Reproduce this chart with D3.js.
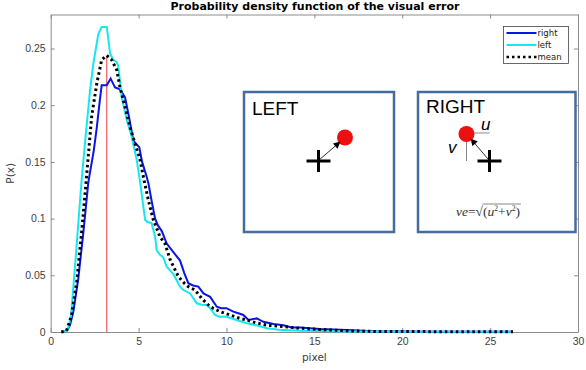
<!DOCTYPE html>
<meta charset="utf-8">
<style>
body { margin: 0; background: #fff; }
svg { font-family: "DejaVu Sans", sans-serif; }
.axis text { font-size: 10.5px; fill: #404040; }
.axis path, .axis line { stroke: #8c8c8c; }
</style>
<svg width="586" height="370"></svg>
<script src="https://d3js.org/d3.v7.min.js"></script>
<script>

// left eye curve (cyan)
var leftX = [0.6, 0.9, 1.0, 1.16, 1.42, 1.67, 1.76, 2.0, 2.24, 2.43, 2.71, 2.9, 3.19, 3.38, 3.56, 3.76, 3.85, 4.04, 4.33, 4.61, 4.89, 5.08, 5.37, 5.5, 5.74, 5.94, 6.03, 6.22, 6.4, 6.6, 6.98, 7.36, 7.55, 7.93, 8.31, 8.6, 8.88, 9.07, 9.35, 9.6, 10.0, 10.58, 11.16, 11.7, 12.3, 13.0, 14.2, 15.5, 17, 18.5, 20, 22, 24, 26.3];
var leftP = [0, 0.001, 0.003, 0.015, 0.065, 0.116, 0.134, 0.175, 0.213, 0.237, 0.263, 0.269, 0.269, 0.2456, 0.24, 0.238, 0.234, 0.207, 0.187, 0.172, 0.152, 0.133, 0.099, 0.097, 0.096, 0.084, 0.072, 0.068, 0.066, 0.0575, 0.051, 0.040, 0.037, 0.034, 0.0253, 0.024, 0.0238, 0.021, 0.015, 0.0135, 0.0135, 0.0106, 0.0077, 0.006, 0.0033, 0.002, 0.0012, 0.0008, 0.0005, 0.0004, 0.0003, 0.0003, 0.0002, 0.0002];

// right eye curve (blue)
var rightX = [0.6, 0.91, 1.1, 1.29, 1.57, 1.86, 2.14, 2.45, 2.62, 2.8, 2.9, 3.19, 3.41, 3.55, 3.66, 3.94, 4.23, 4.45, 4.70, 4.85, 5.04, 5.2, 5.46, 5.56, 5.75, 5.94, 6.1, 6.32, 6.6, 7.0, 7.36, 7.6, 7.83, 8.1, 8.4, 8.69, 8.88, 9.07, 9.45, 9.7, 10.0, 10.39, 10.68, 10.96, 11.25, 11.72, 12.1, 12.67, 13.24, 13.7, 14.2, 15.3, 16.85, 18.7, 20, 22, 24, 26.3];
var rightP = [0, 0.001, 0.006, 0.018, 0.047, 0.088, 0.132, 0.16, 0.18, 0.205, 0.2177, 0.2177, 0.2235, 0.219, 0.2157, 0.214, 0.207, 0.19, 0.169, 0.166, 0.163, 0.15, 0.137, 0.131, 0.115, 0.100, 0.094, 0.089, 0.078, 0.07, 0.063, 0.052, 0.043, 0.041, 0.040, 0.034, 0.0326, 0.031, 0.0223, 0.021, 0.021, 0.018, 0.0165, 0.015, 0.0106, 0.012, 0.009, 0.007, 0.006, 0.004, 0.004, 0.0026, 0.0018, 0.0005, 0.0004, 0.0003, 0.0003, 0.0002];

// mean curve (black dotted)
var meanX = [0.6, 0.9, 1.19, 1.48, 1.76, 2.0, 2.33, 2.62, 2.9, 3.19, 3.47, 3.76, 3.94, 4.23, 4.51, 4.80, 5.08, 5.27, 5.56, 5.84, 6.22, 6.5, 6.79, 7.26, 7.6, 7.83, 8.21, 8.59, 9.07, 9.64, 10.2, 10.77, 11.16, 11.7, 12.3, 13.24, 14.2, 15.5, 17, 18.5, 20, 22, 24, 26.3];
var meanP = [0, 0.001, 0.015, 0.044, 0.088, 0.13, 0.19, 0.219, 0.24, 0.244, 0.24, 0.231, 0.216, 0.1985, 0.181, 0.166, 0.152, 0.137, 0.116, 0.0987, 0.084, 0.078, 0.064, 0.049, 0.043, 0.040, 0.037, 0.0297, 0.0223, 0.0179, 0.015, 0.012, 0.0106, 0.008, 0.006, 0.0047, 0.0033, 0.002, 0.001, 0.0005, 0.0004, 0.0003, 0.0003, 0.0002];

// mode marker (red line)
var modeX = 3.19, modeP = 0.243;

var xTicks = [0, 5, 10, 15, 20, 25, 30];
var yTicks = [0, 0.05, 0.1, 0.15, 0.2, 0.25];
var yTickLabels = ["0", "0.05", "0.1", "0.15", "0.2", "0.25"];

var seriesNames = ["right", "left", "mean"];
var seriesColors = ["#0a14e6", "#14e8f0", "#000"];

var svg = d3.select("svg");

var margin = {left: 50.7, right: 8, top: 14.5, bottom: 38},
    W = 586, H = 370;

var x = d3.scaleLinear().domain([0, 30]).range([margin.left, W - margin.right]);
var y = d3.scaleLinear().domain([0, 0.28]).range([H - margin.bottom, margin.top]);

// axes, MATLAB style: box + inward ticks
svg.append("g").attr("class", "axis")
    .attr("transform", "translate(0," + y(0) + ")")
    .call(d3.axisBottom(x).tickValues(xTicks).tickSize(-4).tickSizeOuter(0).tickPadding(6));
svg.append("g").attr("class", "axis")
    .attr("transform", "translate(" + x(0) + ",0)")
    .call(d3.axisLeft(y).tickValues(yTicks).tickSize(-4).tickSizeOuter(0).tickPadding(5)
      .tickFormat(function(d, i) { return yTickLabels[i]; }));
svg.append("g").attr("class", "axis")
    .attr("transform", "translate(0," + y(0.28) + ")")
    .call(d3.axisTop(x).tickValues(xTicks).tickSize(-4).tickSizeOuter(0).tickFormat(""));
svg.append("g").attr("class", "axis")
    .attr("transform", "translate(" + x(30) + ",0)")
    .call(d3.axisRight(y).tickValues(yTicks).tickSize(-4).tickSizeOuter(0).tickFormat(""));

svg.append("text")
    .attr("x", 315).attr("y", 10)
    .attr("text-anchor", "middle")
    .style("font-size", "11px").style("font-weight", "bold")
    .text("Probability density function of the visual error");

svg.append("text")
    .attr("x", x(15)).attr("y", 361)
    .attr("text-anchor", "middle")
    .style("font-size", "10.5px").style("fill", "#404040")
    .text("pixel");

svg.append("text")
    .attr("transform", "translate(14," + y(0.14) + ") rotate(-90)")
    .attr("text-anchor", "middle")
    .style("font-size", "10.5px").style("fill", "#404040")
    .text("P(x)");

// red mode line
svg.append("line")
    .attr("x1", x(modeX)).attr("x2", x(modeX))
    .attr("y1", y(0)).attr("y2", y(modeP))
    .attr("stroke", "#f03c3c").attr("stroke-width", 1);

var line = d3.line()
    .x(function(d) { return x(d[0]); })
    .y(function(d) { return y(d[1]); });

function pairs(xs, ps) { return xs.map(function(v, i) { return [v, ps[i]]; }); }

svg.append("path").datum(pairs(rightX, rightP))
    .attr("d", line).attr("fill", "none")
    .attr("stroke", seriesColors[0]).attr("stroke-width", 2);
svg.append("path").datum(pairs(leftX, leftP))
    .attr("d", line).attr("fill", "none")
    .attr("stroke", seriesColors[1]).attr("stroke-width", 2);
svg.append("path").datum(pairs(meanX, meanP))
    .attr("d", line).attr("fill", "none")
    .attr("stroke", seriesColors[2]).attr("stroke-width", 3)
    .attr("stroke-dasharray", "2.5,3");

// legend
var lg = svg.append("g").attr("transform", "translate(503.5,26.5)");
lg.append("rect").attr("width", 65).attr("height", 37)
    .attr("fill", "#fff").attr("stroke", "#444").attr("stroke-width", 0.8);
seriesNames.forEach(function(name, i) {
  var yy = 6.5 + i * 12;
  lg.append("line").attr("x1", 3).attr("x2", 33).attr("y1", yy).attr("y2", yy)
      .attr("stroke", seriesColors[i])
      .attr("stroke-width", i == 2 ? 2.5 : 2)
      .attr("stroke-dasharray", i == 2 ? "2.5,3" : null);
  lg.append("text").attr("x", 34).attr("y", yy + 3)
      .style("font-size", "8.5px").style("fill", "#222")
      .text(name);
});

// inset pictures
var defs = svg.append("defs");
defs.append("marker").attr("id", "arr")
    .attr("viewBox", "0 0 10 10").attr("refX", 9).attr("refY", 5)
    .attr("markerWidth", 9).attr("markerHeight", 7)
    .attr("markerUnits", "userSpaceOnUse")
    .attr("orient", "auto")
  .append("path").attr("d", "M0,0L10,5L0,10z").attr("fill", "#000");

var boxColor = "#456c9e";

function cross(g, cx, cy) {
  g.append("line").attr("x1", cx - 12).attr("x2", cx + 12).attr("y1", cy).attr("y2", cy)
      .attr("stroke", "#000").attr("stroke-width", 3);
  g.append("line").attr("x1", cx).attr("x2", cx).attr("y1", cy - 11).attr("y2", cy + 11)
      .attr("stroke", "#000").attr("stroke-width", 3);
}

// LEFT
var gl = svg.append("g");
gl.append("rect").attr("x", 244).attr("y", 92).attr("width", 150).attr("height", 140)
    .attr("fill", "#fff").attr("stroke", boxColor).attr("stroke-width", 2.5);
gl.append("text").attr("x", 252).attr("y", 115).style("font-family", "Liberation Sans, Arial, sans-serif")
    .style("font-size", "19px").text("LEFT");
cross(gl, 318.5, 161);
gl.append("circle").attr("cx", 345).attr("cy", 137.5).attr("r", 8).attr("fill", "#ee1010");
gl.append("line").attr("x1", 319).attr("y1", 160).attr("x2", 340).attr("y2", 142)
    .attr("stroke", "#000").attr("stroke-width", 0.8).attr("marker-end", "url(#arr)");

// RIGHT
var gr = svg.append("g");
gr.append("rect").attr("x", 418).attr("y", 92).attr("width", 157.5).attr("height", 140)
    .attr("fill", "#fff").attr("stroke", boxColor).attr("stroke-width", 2.5);
gr.append("text").attr("x", 426).attr("y", 113).style("font-family", "Liberation Sans, Arial, sans-serif")
    .style("font-size", "19px").text("RIGHT");
gr.append("line").attr("x1", 466.5).attr("x2", 489.5).attr("y1", 133).attr("y2", 133)
    .attr("stroke", "#888").attr("stroke-width", 1);
gr.append("line").attr("x1", 466.5).attr("x2", 466.5).attr("y1", 133).attr("y2", 161)
    .attr("stroke", "#888").attr("stroke-width", 1);
cross(gr, 489.5, 161);
gr.append("circle").attr("cx", 466.5).attr("cy", 134).attr("r", 8).attr("fill", "#ee1010");
gr.append("line").attr("x1", 488).attr("y1", 159).attr("x2", 471).attr("y2", 139)
    .attr("stroke", "#000").attr("stroke-width", 0.8).attr("marker-end", "url(#arr)");
gr.append("text").attr("x", 481).attr("y", 130)
    .style("font-family", "Liberation Sans, Arial, sans-serif").style("font-style", "italic")
    .style("font-size", "17px").text("u");
gr.append("text").attr("x", 448).attr("y", 153)
    .style("font-family", "Liberation Sans, Arial, sans-serif").style("font-style", "italic")
    .style("font-size", "17px").text("v");

// formula ve = sqrt(u^2 + v^2)
var fStyle = function(t) {
  return t.style("font-family", "Liberation Serif, serif").style("font-size", "13.5px").style("fill", "#333");
};
var f1 = fStyle(gr.append("text").attr("x", 456).attr("y", 216));
f1.append("tspan").style("font-style", "italic").text("ve");
f1.append("tspan").text("=\u221A");
var f1w = f1.node().getComputedTextLength();
var f2 = fStyle(gr.append("text").attr("x", 456 + f1w).attr("y", 216));
f2.append("tspan").text("(");
f2.append("tspan").style("font-style", "italic").text("u");
f2.append("tspan").attr("dy", -5).style("font-size", "7.5px").text("2");
f2.append("tspan").attr("dy", 5).text("+");
f2.append("tspan").style("font-style", "italic").text("v");
f2.append("tspan").attr("dy", -5).style("font-size", "7.5px").text("2");
f2.append("tspan").attr("dy", 5).text(")");
var f2w = f2.node().getComputedTextLength();
gr.append("line").attr("x1", 456 + f1w - 0.5).attr("x2", 456 + f1w + f2w + 1).attr("y1", 204).attr("y2", 204)
    .attr("stroke", "#555").attr("stroke-width", 0.7);

</script>
